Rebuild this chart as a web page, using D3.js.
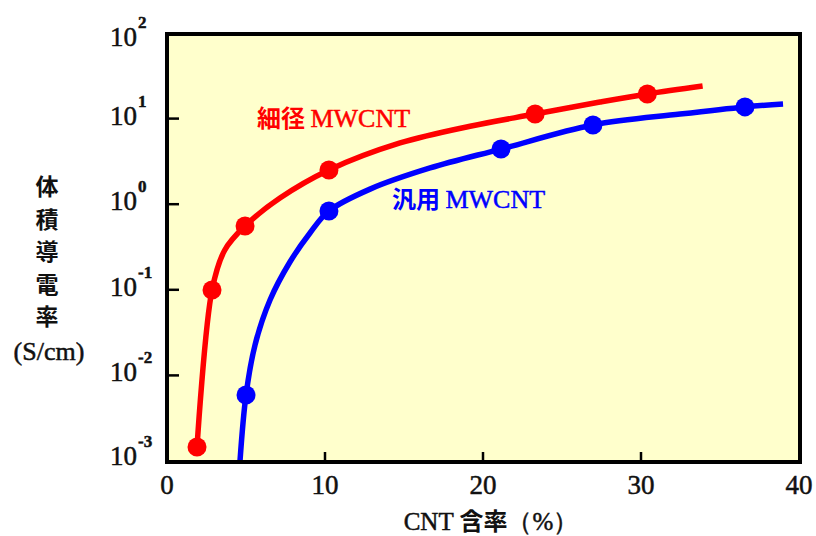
<!DOCTYPE html>
<html><head><meta charset="utf-8">
<script src="https://cdn.jsdelivr.net/npm/d3@7"></script>
<style>
html,body{margin:0;padding:0;background:#fff;}
svg{display:block;}
</style></head>
<body><svg id="c" width="816" height="536"></svg>
<script>
// ---- data ----
const redX = [1.9, 2.85, 4.94, 10.25, 23.3, 30.4];
const redY = [0.00146, 0.0995, 0.556, 2.51, 11.3, 19.4];
const blueX = [5.0, 10.25, 21.14, 26.96, 36.58];
const blueY = [0.0059, 0.834, 4.41, 8.42, 13.7];
// fitted curves
const redCurveX = [1.9, 2.85, 3.65, 4.94, 7.15, 10.25, 14.75, 19.18, 23.3, 27.4, 30.4, 33.9];
const redCurveY = [0.00146, 0.0995, 0.29, 0.556, 1.18, 2.51, 5.19, 8.15, 11.3, 15.6, 19.4, 24.0];
const blueCurveX = [4.62, 5.0, 5.57, 6.52, 7.78, 9.05, 10.25, 12.85, 16.65, 21.14, 26.96, 32.47, 36.58, 38.99];
const blueCurveY = [0.001, 0.0059, 0.0226, 0.076, 0.211, 0.461, 0.834, 1.5, 2.65, 4.41, 8.42, 11.3, 13.7, 14.8];
const xTicks = [0, 10, 20, 30, 40];
const yTicks = [1e-3, 1e-2, 1e-1, 1e0, 1e1, 1e2];
const yTickExp = ["-3", "-2", "-1", "0", "1", "2"];
const redLabel = "細径 MWCNT";
const blueLabel = "汎用 MWCNT";
const yTitleChars = ["体", "積", "導", "電", "率"];
const yTitleUnit = "(S/cm)";
const xTitle = ["CNT ", "含率", "（%）"];

// ---- layout ----
const L = 167, R = 800, T = 34, B = 462;
const svg = d3.select("#c");
const x = d3.scaleLinear().domain([0, 40]).range([L, 799]);
const y = d3.scaleLog().domain([1e-3, 1e2]).range([461, 33]);
const serif = "'Liberation Serif', 'Times New Roman', serif";
const cjk = "'Noto Sans CJK JP', sans-serif";

svg.append("rect").attr("x", L).attr("y", T).attr("width", R - L).attr("height", B - T)
  .attr("fill", "#ffffcc");

svg.append("defs").append("clipPath").attr("id", "clip")
  .append("rect").attr("x", L).attr("y", T).attr("width", R - L).attr("height", B - T);

// ticks (inward)
svg.append("g").selectAll("line").data(yTicks.slice(1, -1)).join("line")
  .attr("x1", L).attr("x2", L + 12).attr("y1", d => y(d)).attr("y2", d => y(d))
  .attr("stroke", "#000").attr("stroke-width", 2.5);
svg.append("g").selectAll("line").data(xTicks.slice(1, -1)).join("line")
  .attr("x1", d => x(d)).attr("x2", d => x(d)).attr("y1", B).attr("y2", B - 10)
  .attr("stroke", "#000").attr("stroke-width", 2.5);

// curves
const line = d3.line().x(d => x(d[0])).y(d => y(d[1])).curve(d3.curveCatmullRom.alpha(0.5));
const g = svg.append("g").attr("clip-path", "url(#clip)");
g.append("path").datum(redCurveX.map((v, i) => [v, redCurveY[i]]))
  .attr("d", line).attr("fill", "none").attr("stroke", "#ff0000").attr("stroke-width", 5.5);
g.append("path").datum(blueCurveX.map((v, i) => [v, blueCurveY[i]]))
  .attr("d", line).attr("fill", "none").attr("stroke", "#0000ff").attr("stroke-width", 5.5);
g.selectAll("circle.r").data(redX.map((v, i) => [v, redY[i]])).join("circle")
  .attr("class", "r").attr("cx", d => x(d[0])).attr("cy", d => y(d[1])).attr("r", 9.5).attr("fill", "#ff0000");
g.selectAll("circle.b").data(blueX.map((v, i) => [v, blueY[i]])).join("circle")
  .attr("class", "b").attr("cx", d => x(d[0])).attr("cy", d => y(d[1])).attr("r", 9.5).attr("fill", "#0000ff");

// frame
svg.append("rect").attr("x", L).attr("y", T).attr("width", R - L).attr("height", B - T)
  .attr("fill", "none").attr("stroke", "#000").attr("stroke-width", 4);

// y tick labels
const yl = svg.append("g").attr("fill", "#111").attr("stroke", "#111").attr("stroke-width", 0.5);
yTicks.forEach((v, i) => {
  const cy = Math.max(37, Math.min(456, y(v) - 3));
  yl.append("text").attr("x", 137).attr("y", cy + 9).attr("text-anchor", "end")
    .attr("font-family", serif).attr("font-size", 27).text("10");
  yl.append("text").attr("x", 138).attr("y", cy - 9).attr("text-anchor", "start")
    .attr("font-family", serif).attr("font-size", 17).attr("font-weight", "bold").text(yTickExp[i]);
});
// x tick labels
svg.append("g").attr("stroke", "#111").attr("stroke-width", 0.5).selectAll("text").data(xTicks).join("text")
  .attr("x", d => x(d)).attr("y", 494).attr("text-anchor", "middle")
  .attr("font-family", serif).attr("font-size", 27).attr("fill", "#111").text(d => d);

// x title
const xt = svg.append("text").attr("x", 491).attr("y", 530).attr("text-anchor", "middle")
  .attr("font-size", 25).attr("fill", "#111");
xt.append("tspan").attr("font-family", serif).attr("stroke", "#111").attr("stroke-width", 0.5).text(xTitle[0]);
xt.append("tspan").attr("font-family", cjk).attr("font-weight", "bold").attr("font-size", 24).text(xTitle[1]);
xt.append("tspan").attr("font-family", serif).attr("stroke", "#111").attr("stroke-width", 0.5).text(xTitle[2]);

// y title
const yt = svg.append("g").attr("fill", "#111");
yTitleChars.forEach((c, i) => {
  yt.append("text").attr("x", 47).attr("y", 195 + i * 32.5).attr("text-anchor", "middle")
    .attr("font-family", cjk).attr("font-weight", "bold").attr("font-size", 23).text(c);
});
yt.append("text").attr("x", 49).attr("y", 360).attr("text-anchor", "middle")
  .attr("stroke", "#111").attr("stroke-width", 0.5)
  .attr("font-family", serif).attr("font-size", 26).text(yTitleUnit);

// series labels
function label(txt, xx, yy, col) {
  const parts = txt.split(" ");
  const t = svg.append("text").attr("x", xx).attr("y", yy).attr("fill", col).attr("font-size", 26);
  t.append("tspan").attr("font-family", cjk).attr("font-weight", "bold").attr("font-size", 24).text(parts[0] + " ");
  t.append("tspan").attr("font-family", serif).attr("stroke", col).attr("stroke-width", 0.5).text(parts[1]);
}
label(redLabel, 257, 127, "#ff0000");
label(blueLabel, 392, 208, "#0000ff");
</script></body></html>
